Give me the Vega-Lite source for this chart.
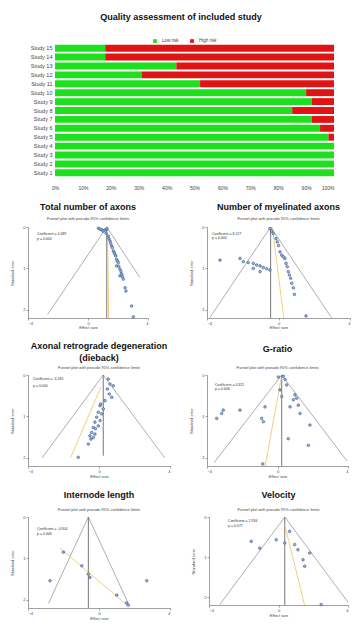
{
"$schema":"https://vega.github.io/schema/vega-lite/v6.json",
"padding":{"left":10,"top":13,"right":0,"bottom":0},
"background":"white",
"spacing":13,
"config":{"font":"Liberation Sans","view":{"stroke":null},
"axis":{"grid":false,"labelFontSize":4,"titleFontSize":4,"tickSize":2,"labelPadding":1,"domainColor":"#777","tickColor":"#777","labelColor":"#444","titleColor":"#444","titleFontWeight":"normal","domainWidth":0.7,"tickWidth":0.7},
"title":{"fontSize":9,"fontWeight":"bold","color":"#111","subtitleFontSize":4,"subtitleColor":"#444","anchor":"middle","frame":"group"}},
"vconcat":[
{"width":306,"height":133,
"title":{"text":"Quality assessment of included study","offset":22},
"data":{"values":[
{"study":"Study 15","risk":"Low risk","value":0.18},{"study":"Study 15","risk":"High risk","value":0.82},
{"study":"Study 14","risk":"Low risk","value":0.18},{"study":"Study 14","risk":"High risk","value":0.82},
{"study":"Study 13","risk":"Low risk","value":0.435},{"study":"Study 13","risk":"High risk","value":0.565},
{"study":"Study 12","risk":"Low risk","value":0.31},{"study":"Study 12","risk":"High risk","value":0.69},
{"study":"Study 11","risk":"Low risk","value":0.52},{"study":"Study 11","risk":"High risk","value":0.48},
{"study":"Study 10","risk":"Low risk","value":0.9},{"study":"Study 10","risk":"High risk","value":0.1},
{"study":"Study 9","risk":"Low risk","value":0.92},{"study":"Study 9","risk":"High risk","value":0.08},
{"study":"Study 8","risk":"Low risk","value":0.85},{"study":"Study 8","risk":"High risk","value":0.15},
{"study":"Study 7","risk":"Low risk","value":0.92},{"study":"Study 7","risk":"High risk","value":0.08},
{"study":"Study 6","risk":"Low risk","value":0.95},{"study":"Study 6","risk":"High risk","value":0.05},
{"study":"Study 5","risk":"Low risk","value":0.98},{"study":"Study 5","risk":"High risk","value":0.02},
{"study":"Study 4","risk":"Low risk","value":1.0},{"study":"Study 4","risk":"High risk","value":0},
{"study":"Study 3","risk":"Low risk","value":1.0},{"study":"Study 3","risk":"High risk","value":0},
{"study":"Study 2","risk":"Low risk","value":1.0},{"study":"Study 2","risk":"High risk","value":0},
{"study":"Study 1","risk":"Low risk","value":1.0},{"study":"Study 1","risk":"High risk","value":0}
]},
"mark":{"type":"bar"},
"encoding":{
"y":{"field":"study","type":"nominal","sort":["Study 15","Study 14","Study 13","Study 12","Study 11","Study 10","Study 9","Study 8","Study 7","Study 6","Study 5","Study 4","Study 3","Study 2","Study 1"],"scale":{"paddingInner":0.22,"paddingOuter":0.08},"axis":{"title":null,"labelFontSize":5.5,"ticks":false,"domain":false,"labelPadding":3,"offset":-27}},
"x":{"field":"value","type":"quantitative","stack":"zero","scale":{"domain":[-0.0968,1],"nice":false},"axis":{"format":".0%","values":[0,0.1,0.2,0.3,0.4,0.5,0.6,0.7,0.8,0.9,1],"title":null,"domain":false,"ticks":false,"labelFontSize":5,"labelPadding":8}},
"color":{"field":"risk","type":"nominal","scale":{"domain":["Low risk","High risk"],"range":["#1ee01e","#e01414"]},"legend":{"orient":"none","legendX":124,"legendY":-6,"direction":"horizontal","title":null,"labelFontSize":4.5,"symbolType":"square","symbolSize":14,"labelColor":"#444"}},
"order":{"field":"risk","sort":"descending"}
}},
{"hconcat":[
{"width":120,"height":91,
"title":{"text":"Total number of axons","subtitle":"Funnel plot with pseudo 95% confidence limits","subtitlePadding":5,"offset":4},
"layer":[
{"data":{"values":[{"i":0,"x":-2.7,"se":2.12},{"i":1,"x":1.25,"se":0},{"i":2,"x":3.45,"se":1.22}]},"mark":{"type":"line","color":"#999","strokeWidth":0.8},
"encoding":{"x":{"field":"x","type":"quantitative","scale":{"domain":[-4,4]},"axis":{"values":[-4,-2,0,2,4],"title":"Effect size","titlePadding":0}},"y":{"field":"se","type":"quantitative","scale":{"domain":[0,2.2],"reverse":true},"axis":{"values":[0,0.5,1,1.5,2],"title":"Standard error","titlePadding":2,"minExtent":12,"maxExtent":12}},"order":{"field":"i"}}},
{"data":{"values":[{"x":1.25,"se":0,"se2":2.2}]},"mark":{"type":"rule","color":"#555","strokeWidth":0.8},"encoding":{"x":{"field":"x","type":"quantitative"},"y":{"field":"se","type":"quantitative"},"y2":{"field":"se2"}}},
{"data":{"values":[{"i":0,"x":1.3,"se":0},{"i":1,"x":1.38,"se":2.2}]},"mark":{"type":"line","color":"#f0c060","strokeWidth":0.8},"encoding":{"x":{"field":"x","type":"quantitative"},"y":{"field":"se","type":"quantitative"},"order":{"field":"i"}}},
{"data":{"values":[{"x":0.69,"se":0.03},{"x":0.8,"se":0.05},{"x":0.93,"se":0.07},{"x":1.13,"se":0.07},{"x":1.27,"se":0.05},{"x":1.0,"se":0.1},{"x":1.2,"se":0.15},{"x":1.35,"se":0.22},{"x":1.4,"se":0.28},{"x":1.47,"se":0.34},{"x":1.52,"se":0.4},{"x":1.58,"se":0.46},{"x":1.62,"se":0.5},{"x":1.69,"se":0.58},{"x":1.75,"se":0.62},{"x":1.8,"se":0.66},{"x":1.85,"se":0.7},{"x":1.91,"se":0.78},{"x":1.95,"se":0.82},{"x":2.02,"se":0.86},{"x":1.91,"se":0.94},{"x":2.05,"se":0.95},{"x":2.13,"se":1.02},{"x":2.2,"se":1.08},{"x":2.25,"se":1.14},{"x":2.13,"se":1.18},{"x":2.3,"se":1.2},{"x":2.35,"se":1.26},{"x":2.47,"se":1.47},{"x":2.53,"se":1.55},{"x":2.91,"se":1.91},{"x":3.02,"se":2.17}]},
"mark":{"type":"point","filled":true,"fill":"#9ab8e0","stroke":"#1f3d7a","strokeWidth":0.5,"size":7,"opacity":1},"encoding":{"x":{"field":"x","type":"quantitative"},"y":{"field":"se","type":"quantitative"}}},
{"data":{"values":[{"x":-3.4,"se":0.17,"label":"Coefficient = 4.089"},{"x":-3.4,"se":0.29,"label":"p = 0.000"}]},"mark":{"type":"text","align":"left","fontSize":3.5,"color":"#333"},"encoding":{"x":{"field":"x","type":"quantitative"},"y":{"field":"se","type":"quantitative"},"text":{"field":"label"}}}
]},
{"width":143,"height":91,
"title":{"text":"Number of myelinated axons","subtitle":"Funnel plot with pseudo 95% confidence limits","subtitlePadding":5,"offset":4},
"layer":[
{"data":{"values":[{"i":0,"x":-3.84,"se":2.19},{"i":1,"x":-0.44,"se":0},{"i":2,"x":2.96,"se":2.19}]},"mark":{"type":"line","color":"#999","strokeWidth":0.8},
"encoding":{"x":{"field":"x","type":"quantitative","scale":{"domain":[-4,4]},"axis":{"values":[-4,-2,0,2,4],"title":"Effect size","titlePadding":0}},"y":{"field":"se","type":"quantitative","scale":{"domain":[0,2.2],"reverse":true},"axis":{"values":[0,0.5,1,1.5,2],"title":"Standard error","titlePadding":2,"minExtent":12,"maxExtent":12}},"order":{"field":"i"}}},
{"data":{"values":[{"x":-0.44,"se":0,"se2":2.2}]},"mark":{"type":"rule","color":"#555","strokeWidth":0.8},"encoding":{"x":{"field":"x","type":"quantitative"},"y":{"field":"se","type":"quantitative"},"y2":{"field":"se2"}}},
{"data":{"values":[{"i":0,"x":-0.35,"se":0},{"i":1,"x":0.3,"se":2.2}]},"mark":{"type":"line","color":"#f0c060","strokeWidth":0.8},"encoding":{"x":{"field":"x","type":"quantitative"},"y":{"field":"se","type":"quantitative"},"order":{"field":"i"}}},
{"data":{"values":[{"x":-0.48,"se":0.04},{"x":-0.38,"se":0.1},{"x":-0.29,"se":0.16},{"x":-0.14,"se":0.28},{"x":-0.07,"se":0.36},{"x":0.0,"se":0.45},{"x":0.08,"se":0.6},{"x":0.18,"se":0.68},{"x":0.27,"se":0.72},{"x":0.36,"se":0.76},{"x":0.42,"se":0.88},{"x":0.49,"se":0.96},{"x":0.55,"se":1.08},{"x":0.61,"se":1.16},{"x":0.68,"se":1.24},{"x":0.74,"se":1.36},{"x":0.83,"se":1.47},{"x":0.89,"se":1.63},{"x":-2.15,"se":0.76},{"x":-1.97,"se":0.84},{"x":-1.7,"se":0.86},{"x":-1.41,"se":0.88},{"x":-1.22,"se":0.92},{"x":-1.03,"se":0.94},{"x":-0.85,"se":0.98},{"x":-0.66,"se":1.01},{"x":-0.48,"se":1.04},{"x":-1.41,"se":1.0},{"x":-1.03,"se":1.08},{"x":-3.27,"se":0.8},{"x":1.54,"se":2.15}]},
"mark":{"type":"point","filled":true,"fill":"#9ab8e0","stroke":"#1f3d7a","strokeWidth":0.5,"size":7,"opacity":1},"encoding":{"x":{"field":"x","type":"quantitative"},"y":{"field":"se","type":"quantitative"}}},
{"data":{"values":[{"x":-3.72,"se":0.17,"label":"Coefficient = 8.127"},{"x":-3.72,"se":0.26,"label":"p = 0.000"}]},"mark":{"type":"text","align":"left","fontSize":3.5,"color":"#333"},"encoding":{"x":{"field":"x","type":"quantitative"},"y":{"field":"se","type":"quantitative"},"text":{"field":"label"}}}
]}
],"spacing":59,"bounds":"flush"},
{"hconcat":[
{"width":142,"height":91,
"title":{"text":["Axonal retrograde degeneration","(dieback)"],"lineHeight":12,"subtitle":"Funnel plot with pseudo 95% confidence limits","subtitlePadding":3,"offset":3},
"layer":[
{"data":{"values":[{"i":0,"x":-3.2,"se":2.0},{"i":1,"x":0.24,"se":0},{"i":2,"x":3.7,"se":2.0}]},"mark":{"type":"line","color":"#999","strokeWidth":0.8},
"encoding":{"x":{"field":"x","type":"quantitative","scale":{"domain":[-4,4]},"axis":{"values":[-4,-2,0,2,4],"title":"Effect size","titlePadding":1}},"y":{"field":"se","type":"quantitative","scale":{"domain":[0,2.2],"reverse":true},"axis":{"values":[0,0.5,1,1.5,2],"title":"Standard error","titlePadding":2,"minExtent":12,"maxExtent":12}},"order":{"field":"i"}}},
{"data":{"values":[{"x":0.24,"se":0,"se2":1.95}]},"mark":{"type":"rule","color":"#555","strokeWidth":0.8},"encoding":{"x":{"field":"x","type":"quantitative"},"y":{"field":"se","type":"quantitative"},"y2":{"field":"se2"}}},
{"data":{"values":[{"i":0,"x":0.1,"se":0.3},{"i":1,"x":-1.6,"se":2.0}]},"mark":{"type":"line","color":"#f0c060","strokeWidth":0.8},"encoding":{"x":{"field":"x","type":"quantitative"},"y":{"field":"se","type":"quantitative"},"order":{"field":"i"}}},
{"data":{"values":[{"x":0.52,"se":0.1},{"x":0.62,"se":0.22},{"x":0.81,"se":0.26},{"x":0.47,"se":0.34},{"x":0.58,"se":0.46},{"x":0.72,"se":0.54},{"x":0.34,"se":0.62},{"x":0.06,"se":0.74},{"x":0.24,"se":0.82},{"x":-0.04,"se":0.9},{"x":0.15,"se":0.94},{"x":-0.13,"se":1.02},{"x":0.06,"se":1.1},{"x":-0.23,"se":1.14},{"x":-0.04,"se":1.23},{"x":-0.32,"se":1.27},{"x":-0.41,"se":1.39},{"x":-0.23,"se":1.43},{"x":-0.51,"se":1.47},{"x":-0.32,"se":1.51},{"x":-0.6,"se":1.67},{"x":-1.17,"se":1.99},{"x":0.1,"se":0.7},{"x":-0.2,"se":1.3},{"x":-0.45,"se":1.55}]},
"mark":{"type":"point","filled":true,"fill":"#9ab8e0","stroke":"#1f3d7a","strokeWidth":0.5,"size":7,"opacity":1},"encoding":{"x":{"field":"x","type":"quantitative"},"y":{"field":"se","type":"quantitative"}}},
{"data":{"values":[{"x":-3.72,"se":0.1,"label":"Coefficient = -3.265"},{"x":-3.72,"se":0.27,"label":"p = 0.000"}]},"mark":{"type":"text","align":"left","fontSize":3.5,"color":"#333"},"encoding":{"x":{"field":"x","type":"quantitative"},"y":{"field":"se","type":"quantitative"},"text":{"field":"label"}}}
]},
{"width":141,"height":91,
"title":{"text":"G-ratio","subtitle":"Funnel plot with pseudo 95% confidence limits","subtitlePadding":12,"offset":3},
"layer":[
{"data":{"values":[{"i":0,"x":-3.6,"se":2.12},{"i":1,"x":0.24,"se":0},{"i":2,"x":3.95,"se":2.08}]},"mark":{"type":"line","color":"#999","strokeWidth":0.8},
"encoding":{"x":{"field":"x","type":"quantitative","scale":{"domain":[-4,4]},"axis":{"values":[-4,-2,0,2,4],"title":"Effect size","titlePadding":1}},"y":{"field":"se","type":"quantitative","scale":{"domain":[0,2.2],"reverse":true},"axis":{"values":[0,0.5,1,1.5,2],"title":"Standard error","titlePadding":2,"minExtent":12,"maxExtent":12}},"order":{"field":"i"}}},
{"data":{"values":[{"x":0.24,"se":0,"se2":2.2}]},"mark":{"type":"rule","color":"#555","strokeWidth":0.8},"encoding":{"x":{"field":"x","type":"quantitative"},"y":{"field":"se","type":"quantitative"},"y2":{"field":"se2"}}},
{"data":{"values":[{"i":0,"x":0.2,"se":0.1},{"i":1,"x":-0.7,"se":2.2}]},"mark":{"type":"line","color":"#f0c060","strokeWidth":0.8},"encoding":{"x":{"field":"x","type":"quantitative"},"y":{"field":"se","type":"quantitative"},"order":{"field":"i"}}},
{"data":{"values":[{"x":0.05,"se":0.05},{"x":0.33,"se":0.03},{"x":0.43,"se":0.11},{"x":0.52,"se":0.24},{"x":0.14,"se":0.36},{"x":0.24,"se":0.52},{"x":0.99,"se":0.48},{"x":1.09,"se":0.56},{"x":0.9,"se":0.6},{"x":0.71,"se":0.77},{"x":1.18,"se":0.73},{"x":1.28,"se":0.93},{"x":-0.71,"se":0.77},{"x":-0.9,"se":1.05},{"x":-0.8,"se":1.13},{"x":-2.13,"se":0.85},{"x":-3.08,"se":0.85},{"x":-3.17,"se":0.93},{"x":-3.45,"se":1.05},{"x":1.84,"se":1.21},{"x":0.61,"se":1.54},{"x":1.75,"se":1.7},{"x":-0.84,"se":2.15}]},
"mark":{"type":"point","filled":true,"fill":"#9ab8e0","stroke":"#1f3d7a","strokeWidth":0.5,"size":7,"opacity":1},"encoding":{"x":{"field":"x","type":"quantitative"},"y":{"field":"se","type":"quantitative"}}},
{"data":{"values":[{"x":-3.55,"se":0.24,"label":"Coefficient = 0.321"},{"x":-3.55,"se":0.34,"label":"p = 0.646"}]},"mark":{"type":"text","align":"left","fontSize":3.5,"color":"#333"},"encoding":{"x":{"field":"x","type":"quantitative"},"y":{"field":"se","type":"quantitative"},"text":{"field":"label"}}}
]}
],"spacing":37,"bounds":"flush"},
{"hconcat":[
{"width":142,"height":91,
"title":{"text":"Internode length","subtitle":"Funnel plot with pseudo 95% confidence limits","subtitlePadding":8,"offset":3},
"layer":[
{"data":{"values":[{"i":0,"x":-2.85,"se":2.09},{"i":1,"x":-0.6,"se":0},{"i":2,"x":1.65,"se":2.09}]},"mark":{"type":"line","color":"#999","strokeWidth":0.8},
"encoding":{"x":{"field":"x","type":"quantitative","scale":{"domain":[-4,4]},"axis":{"values":[-4,-2,0,2,4],"title":"Effect size","titlePadding":1}},"y":{"field":"se","type":"quantitative","scale":{"domain":[0,2.2],"reverse":true},"axis":{"values":[0,1,2],"title":"Standard error","titlePadding":2,"minExtent":12,"maxExtent":12}},"order":{"field":"i"}}},
{"data":{"values":[{"x":-0.6,"se":0,"se2":2.2}]},"mark":{"type":"rule","color":"#555","strokeWidth":0.8},"encoding":{"x":{"field":"x","type":"quantitative"},"y":{"field":"se","type":"quantitative"},"y2":{"field":"se2"}}},
{"data":{"values":[{"i":0,"x":-2.2,"se":0.75},{"i":1,"x":1.5,"se":2.1}]},"mark":{"type":"line","color":"#f0c060","strokeWidth":0.8},"encoding":{"x":{"field":"x","type":"quantitative"},"y":{"field":"se","type":"quantitative"},"order":{"field":"i"}}},
{"data":{"values":[{"x":-2.01,"se":0.85},{"x":-0.97,"se":1.18},{"x":-0.6,"se":1.38},{"x":-0.51,"se":1.46},{"x":1.0,"se":1.89},{"x":1.65,"se":2.13},{"x":1.55,"se":2.08},{"x":-2.76,"se":1.54},{"x":2.69,"se":1.54}]},
"mark":{"type":"point","filled":true,"fill":"#9ab8e0","stroke":"#1f3d7a","strokeWidth":0.5,"size":7,"opacity":1},"encoding":{"x":{"field":"x","type":"quantitative"},"y":{"field":"se","type":"quantitative"}}},
{"data":{"values":[{"x":-3.49,"se":0.29,"label":"Coefficient = -0.904"},{"x":-3.49,"se":0.4,"label":"p = 0.006"}]},"mark":{"type":"text","align":"left","fontSize":3.5,"color":"#333"},"encoding":{"x":{"field":"x","type":"quantitative"},"y":{"field":"se","type":"quantitative"},"text":{"field":"label"}}}
]},
{"width":139,"height":88,
"title":{"text":"Velocity","subtitle":"Funnel plot with pseudo 95% confidence limits","subtitlePadding":8,"offset":3},
"layer":[
{"data":{"values":[{"i":0,"x":-3.38,"se":2.19},{"i":1,"x":0.36,"se":0},{"i":2,"x":4.0,"se":2.13}]},"mark":{"type":"line","color":"#999","strokeWidth":0.8},
"encoding":{"x":{"field":"x","type":"quantitative","scale":{"domain":[-4,4]},"axis":{"values":[-4,-2,0,2,4],"title":"Effect size","titlePadding":1}},"y":{"field":"se","type":"quantitative","scale":{"domain":[0,2.2],"reverse":true},"axis":{"values":[0,1,2],"title":"Standard error","titlePadding":2,"minExtent":12,"maxExtent":12}},"order":{"field":"i"}}},
{"data":{"values":[{"x":0.36,"se":0,"se2":2.2}]},"mark":{"type":"rule","color":"#555","strokeWidth":0.8},"encoding":{"x":{"field":"x","type":"quantitative"},"y":{"field":"se","type":"quantitative"},"y2":{"field":"se2"}}},
{"data":{"values":[{"i":0,"x":0.36,"se":0.2},{"i":1,"x":1.5,"se":2.2}]},"mark":{"type":"line","color":"#f0c060","strokeWidth":0.8},"encoding":{"x":{"field":"x","type":"quantitative"},"y":{"field":"se","type":"quantitative"},"order":{"field":"i"}}},
{"data":{"values":[{"x":-1.57,"se":0.61},{"x":-1.08,"se":0.78},{"x":-0.13,"se":0.57},{"x":0.64,"se":0.36},{"x":0.36,"se":0.65},{"x":0.93,"se":0.69},{"x":1.12,"se":0.82},{"x":1.8,"se":0.9},{"x":1.41,"se":1.07},{"x":1.51,"se":1.23},{"x":2.46,"se":2.19}]},
"mark":{"type":"point","filled":true,"fill":"#9ab8e0","stroke":"#1f3d7a","strokeWidth":0.5,"size":7,"opacity":1},"encoding":{"x":{"field":"x","type":"quantitative"},"y":{"field":"se","type":"quantitative"}}},
{"data":{"values":[{"x":-2.9,"se":0.1,"label":"Coefficient = 2.934"},{"x":-2.9,"se":0.22,"label":"p = 0.077"}]},"mark":{"type":"text","align":"left","fontSize":3.5,"color":"#333"},"encoding":{"x":{"field":"x","type":"quantitative"},"y":{"field":"se","type":"quantitative"},"text":{"field":"label"}}}
]}
],"spacing":39,"bounds":"flush"}
]
}
